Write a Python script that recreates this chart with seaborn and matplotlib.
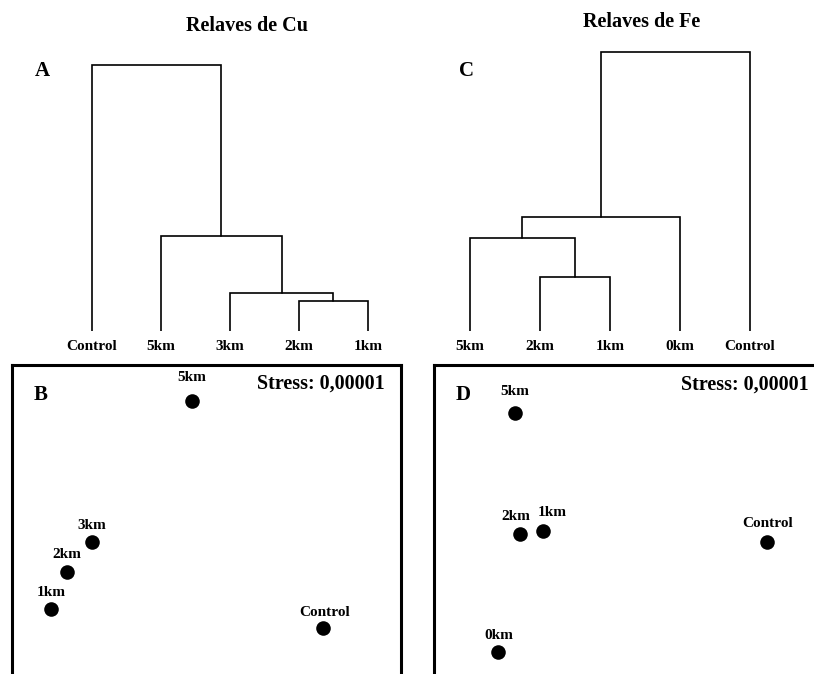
import matplotlib
matplotlib.use('Agg')
import pandas as pd
import matplotlib.pyplot as plt
import seaborn as sns

# --- cluster dendrograms (leaves in display order, merges as (a, b, height)) ---
cu_leaves = ['Control', '5km', '3km', '2km', '1km']
cu_merges = [(3, 4, 0.103), (2, 5, 0.131), (1, 6, 0.326), (0, 7, 0.914)]

fe_leaves = ['5km', '2km', '1km', '0km', 'Control']
fe_merges = [(1, 2, 0.186), (0, 5, 0.320), (6, 3, 0.392), (7, 4, 0.959)]

# --- MDS ordinations ---
cu_sites = ['5km', '3km', '2km', '1km', 'Control']
cu_dim1 = [-0.089, -0.706, -0.861, -0.959, 0.719]
cu_dim2 = [0.978, 0.108, -0.077, -0.305, -0.423]

fe_sites = ['5km', '2km', '1km', 'Control', '0km']
fe_dim1 = [-0.700, -0.669, -0.527, 0.855, -0.805]
fe_dim2 = [0.904, 0.157, 0.176, 0.108, -0.571]

stress_label = 'Stress: 0,00001'

sns.set_style('white')
plt.rcParams['font.family'] = ['Liberation Serif', 'DejaVu Serif']
plt.rcParams['font.weight'] = 'bold'
plt.rcParams['text.color'] = 'black'
plt.rcParams['xtick.color'] = 'black'
plt.rcParams['xtick.labelcolor'] = 'black'

W, H = 814, 674
fig = plt.figure(figsize=(W / 100, H / 100), dpi=100)


def px_axes(x0, y0, x1, y1):
    # axes from pixel box (top-left origin)
    return fig.add_axes([x0 / W, 1 - y1 / H, (x1 - x0) / W, (y1 - y0) / H])


def draw_dendrogram(ax, leaves, merges):
    n = len(leaves)
    xpos = {i: float(i) for i in range(n)}
    hgt = {i: 0.0 for i in range(n)}
    for k, (a, b, h) in enumerate(merges):
        xa, xb = xpos[a], xpos[b]
        ax.plot([xa, xa, xb, xb], [hgt[a], h, h, hgt[b]], color='black', lw=1.2,
                solid_joinstyle='miter')
        xpos[n + k] = (xa + xb) / 2
        hgt[n + k] = h
    ax.set_ylim(0, 1)
    ax.set_yticks([])
    ax.set_xticks(range(n))
    ax.set_xticklabels(leaves, fontsize=11, fontweight='bold', color='black')
    ax.tick_params(axis='x', length=0, pad=6.5)
    sns.despine(ax=ax, left=True, bottom=True)


ax_a = px_axes(40, 40, 400, 331)
draw_dendrogram(ax_a, cu_leaves, cu_merges)
ax_a.set_xlim(-0.754, 4.464)

ax_c = px_axes(420, 40, 800, 331)
draw_dendrogram(ax_c, fe_leaves, fe_merges)
ax_c.set_xlim(-0.714, 4.714)

fig.text(247 / W, 1 - 26 / H, 'Relaves de Cu', ha='center', va='center',
         fontsize=14.5, fontweight='bold')
fig.text(642 / W, 1 - 22 / H, 'Relaves de Fe', ha='center', va='center',
         fontsize=14.5, fontweight='bold')
fig.text(42 / W, 1 - 71 / H, 'A', ha='center', va='center', fontsize=15, fontweight='bold')
fig.text(466 / W, 1 - 71 / H, 'C', ha='center', va='center', fontsize=15, fontweight='bold')

# label offsets (pixels) relative to each point
cu_offsets = {'5km': (0, 23), '3km': (0, 16), '2km': (0, 17), '1km': (0, 16), 'Control': (2, 16)}
fe_offsets = {'5km': (0, 21), '2km': (-4, 18), '1km': (9, 18), 'Control': (1, 18), '0km': (1, 17)}


def draw_mds(ax, sites, d1, d2, offsets, letter):
    df = pd.DataFrame({'site': sites, 'dim1': d1, 'dim2': d2})
    sns.scatterplot(data=df, x='dim1', y='dim2', ax=ax, color='black', s=110,
                    edgecolor='black', linewidth=0, legend=False, zorder=3)
    for _, r in df.iterrows():
        dx, dy = offsets[r['site']]
        ax.annotate(r['site'], (r['dim1'], r['dim2']), xytext=(dx * 0.72, dy * 0.72),
                    textcoords='offset points', ha='center', va='center',
                    fontsize=11, fontweight='bold')
    ax.set_xlim(-1.2, 1.2)
    ax.set_ylim(-1.2, 1.2)
    ax.set_xticks([])
    ax.set_yticks([])
    ax.set_xlabel('')
    ax.set_ylabel('')
    for sp in ax.spines.values():
        sp.set_visible(True)
        sp.set_color('black')
        sp.set_linewidth(2.2)
    ax.text(0.074, 0.923, letter, transform=ax.transAxes, ha='center', va='center',
            fontsize=15, fontweight='bold')


ax_b = px_axes(12, 365, 401, 754)
draw_mds(ax_b, cu_sites, cu_dim1, cu_dim2, cu_offsets, 'B')
ax_b.text(0.959, 0.951, stress_label, transform=ax_b.transAxes, ha='right', va='center',
          fontsize=14.5, fontweight='bold')

ax_d = px_axes(434, 365, 823, 754)
draw_mds(ax_d, fe_sites, fe_dim1, fe_dim2, fe_offsets, 'D')
ax_d.text(0.964, 0.949, stress_label, transform=ax_d.transAxes, ha='right', va='center',
          fontsize=14.5, fontweight='bold')

fig.savefig('out.png', dpi=100)
